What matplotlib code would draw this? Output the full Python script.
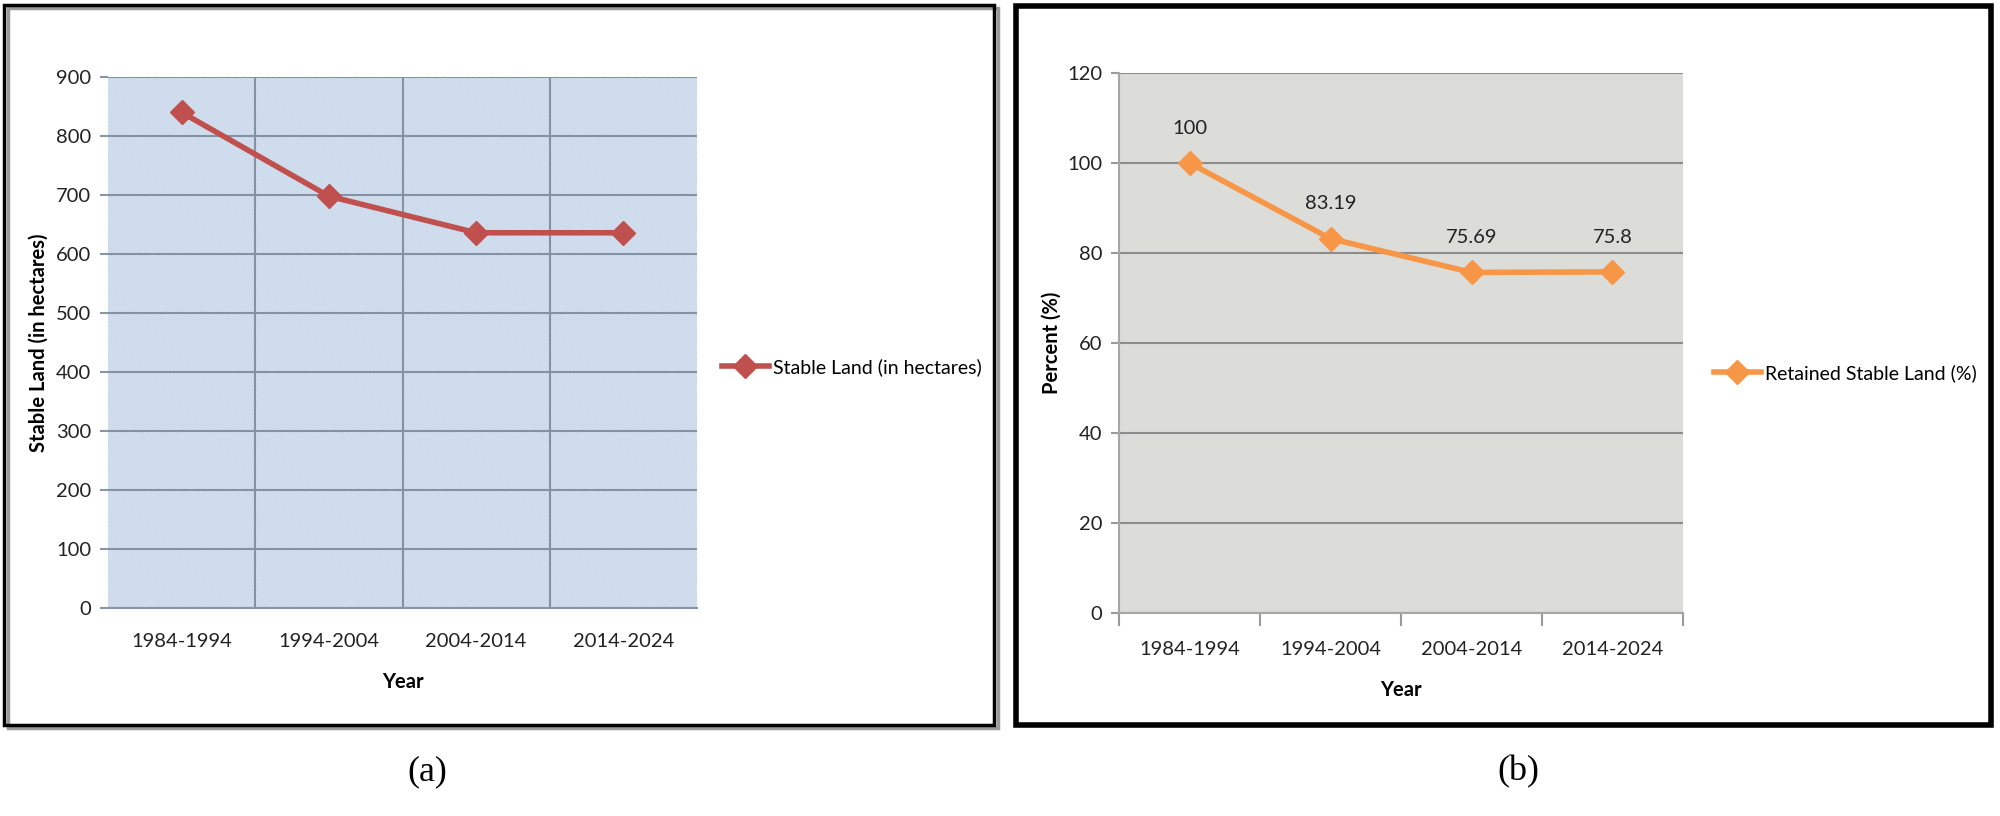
import matplotlib
matplotlib.use("Agg")
import matplotlib.pyplot as plt
from matplotlib.patches import Rectangle

# ---- data ----
periods = ["1984-1994", "1994-2004", "2004-2014", "2014-2024"]
stable_land = [840, 698, 636, 636]
retained_pct = [100, 83.19, 75.69, 75.8]
retained_labels = ["100", "83.19", "75.69", "75.8"]
left_yticks = [0, 100, 200, 300, 400, 500, 600, 700, 800, 900]
right_yticks = [0, 20, 40, 60, 80, 100, 120]

W, H = 2000, 816
FONT = ["Lato", "DejaVu Sans"]
plt.rcParams["font.family"] = FONT
plt.rcParams["hatch.linewidth"] = 0.7

TICK_FS = 14.5
LEG_FS = 14
LAB_FS = 14.5

fig = plt.figure(figsize=(W / 100, H / 100), dpi=100)
fig.patch.set_facecolor("white")


def ax_rect(x0, y0, x1, y1):
    return [x0 / W, 1 - y1 / H, (x1 - x0) / W, (y1 - y0) / H]


def frame(x0, y0, x1, y1, lw, shadow=True):
    if shadow:
        fig.add_artist(Rectangle((x0 / W + 0.002, 1 - y1 / H - 0.004), (x1 - x0) / W, (y1 - y0) / H,
                                 transform=fig.transFigure, fill=False, ec="#9a9a9a", lw=lw, zorder=0))
    fig.add_artist(Rectangle((x0 / W, 1 - y1 / H), (x1 - x0) / W, (y1 - y0) / H,
                             transform=fig.transFigure, fill=False, ec="black", lw=lw, zorder=1))


frame(4, 5, 994, 725, 2.5)
frame(1016, 6, 1991, 725, 4.0, shadow=False)

x = list(range(len(periods)))

# ---- panel (a) ----
ax1 = fig.add_axes(ax_rect(108, 77, 697, 608))
ax1.set_facecolor("#b3c7e1")
ax1.add_patch(Rectangle((0, 0), 1, 1, transform=ax1.transAxes, facecolor="#b3c7e1",
                        edgecolor="#e4ecf6", hatch="\\" * 14, lw=0, zorder=0))
ax1.set_xlim(-0.5, 3.5)
ax1.set_ylim(0, 900)
ax1.set_yticks(left_yticks)
ax1.set_xticks(x)
ax1.set_xticklabels(periods, fontsize=TICK_FS, color="#222222")
ax1.tick_params(axis="y", labelsize=TICK_FS, colors="#222222", length=6, color="#8a96a6", width=1.5, pad=6)
ax1.tick_params(axis="x", length=0, pad=18)
ax1.set_xticks([0.5, 1.5, 2.5], minor=True)
ax1.tick_params(axis="x", which="minor", length=0)
ax1.grid(True, axis="y", which="major", color="#8592a4", lw=1.5)
ax1.grid(True, axis="x", which="minor", color="#8592a4", lw=1.5)
ax1.set_axisbelow(True)
for s in ["top", "right", "left"]:
    ax1.spines[s].set_visible(False)
ax1.spines["bottom"].set_color("#8995a6")
ax1.spines["bottom"].set_linewidth(1.5)
ax1.plot(x, stable_land, color="#c0504d", lw=4, marker="D", markersize=12, zorder=3,
         label="Stable Land (in hectares)")
ax1.set_ylabel("Stable Land (in hectares)", fontsize=LAB_FS, fontweight="bold", labelpad=5)
ax1.set_xlabel("Year", fontsize=LAB_FS, fontweight="bold", labelpad=16)
ax1.legend(loc="center left", bbox_to_anchor=((722 - 108) / 589, (608 - 367) / 531), frameon=False,
           fontsize=LEG_FS, handlelength=2.4, handletextpad=0.2, borderaxespad=0, borderpad=0)

# ---- panel (b) ----
ax2 = fig.add_axes(ax_rect(1119, 73, 1683, 613))
ax2.set_facecolor("#dcdcd9")
ax2.set_xlim(-0.5, 3.5)
ax2.set_ylim(0, 120)
ax2.set_yticks(right_yticks)
ax2.set_xticks(x)
ax2.set_xticklabels(periods, fontsize=TICK_FS, color="#222222")
ax2.set_xticks([-0.5, 0.5, 1.5, 2.5, 3.5], minor=True)
ax2.tick_params(axis="x", which="major", length=0, pad=20)
ax2.tick_params(axis="x", which="minor", length=9, color="#9a9a9a", width=1.5)
ax2.tick_params(axis="y", labelsize=TICK_FS, colors="#222222", length=6, color="#9a9a9a", width=1.5, pad=6)
ax2.grid(True, axis="y", color="#8c8c8c", lw=1.5)
ax2.set_axisbelow(True)
for s in ["top", "right"]:
    ax2.spines[s].set_visible(False)
for s in ["left", "bottom"]:
    ax2.spines[s].set_color("#a6a6a6")
    ax2.spines[s].set_linewidth(1.5)
ax2.plot(x, retained_pct, color="#f79646", lw=4, marker="D", markersize=12, zorder=3,
         label="Retained Stable Land (%)")
for xi, yi, lab in zip(x, retained_pct, retained_labels):
    ax2.annotate(lab, (xi, yi), xytext=(0, 25), textcoords="offset points", ha="center",
                 va="center", fontsize=TICK_FS, color="#222222")
ax2.set_ylabel("Percent (%)", fontsize=LAB_FS, fontweight="bold", labelpad=4)
ax2.set_xlabel("Year", fontsize=LAB_FS, fontweight="bold", labelpad=16)
ax2.legend(loc="center left", bbox_to_anchor=((1714 - 1119) / 564, (613 - 373) / 540), frameon=False,
           fontsize=LEG_FS, handlelength=2.4, handletextpad=0.2, borderaxespad=0, borderpad=0)

# ---- panel captions ----
fig.text(427 / W, 1 - 772 / H, "(a)", fontsize=26, family=["Liberation Serif", "DejaVu Serif"],
         ha="center", va="center")
fig.text(1518 / W, 1 - 772 / H, "(b)", fontsize=26, family=["Liberation Serif", "DejaVu Serif"],
         ha="center", va="center")

fig.savefig("out.png", dpi=100, facecolor="white")
